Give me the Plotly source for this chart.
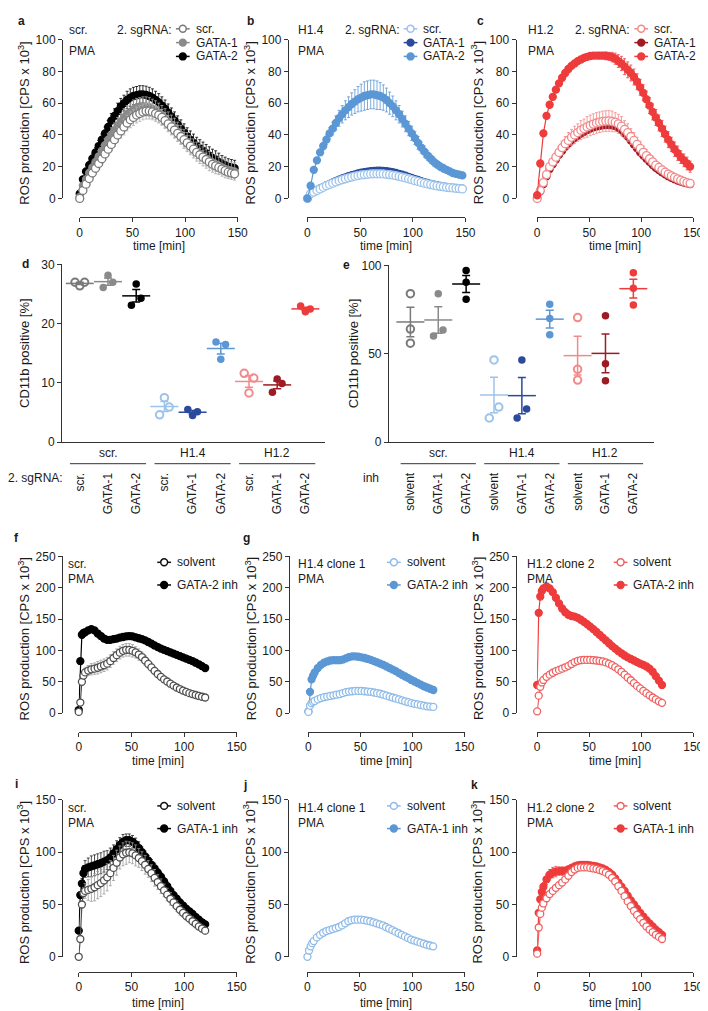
import numpy as np
import plotly.graph_objects as go

W, H = 708, 1011
FONT = "Liberation Sans, Arial, Helvetica, sans-serif"
TXT = "#1a1a1a"
AX = "#333333"

# ---------------- data: panels a-c (time in min) ----------------
T_ABC = [0, 3, 6, 9, 12, 15, 18, 21, 24, 27, 30, 33, 36, 39, 42, 45, 48, 51, 54, 57,
         60, 63, 66, 69, 72, 75, 78, 81, 84, 87, 90, 93, 96, 99, 102, 105, 108, 111, 114, 117,
         120, 123, 126, 129, 132, 135, 138, 141, 144, 147]

A_SCR = [0, 5, 9, 12.5, 16, 19, 22, 25, 28, 31, 34, 37, 40, 42.5, 45, 47.5, 49.5, 51, 52.5, 53.5,
         54.5, 55, 55, 54.5, 53.5, 52.5, 51, 49, 47, 45, 43, 41, 39, 37, 35, 33, 31, 29, 27.5, 26,
         24.5, 23, 21.5, 20.5, 19.5, 18.5, 17.5, 16.5, 16, 15.5]
A_SCR_ERR = [0.5, 1, 1.5, 2, 2.5, 2.5, 3, 3, 3.5, 3.5, 4, 4, 4.5, 4.5, 5, 5, 5, 5, 5, 5,
             5, 5, 5, 5, 5, 5, 5, 5, 5, 5, 5, 5, 4.5, 4.5, 4.5, 4.5, 4, 4, 4, 4,
             4, 3.5, 3.5, 3.5, 3.5, 3, 3, 3, 3, 3]
A_G1 = [1, 8, 12, 16, 19.5, 23, 26.5, 30, 33.5, 37, 40, 43, 46, 48.5, 51, 53, 54.5, 56, 57, 57.5,
        58, 58, 57.5, 56.5, 55.5, 54, 52.5, 50.5, 48.5, 46.5, 44.5, 42, 40, 37.5, 35.5, 33.5, 31.5, 29.5, 28, 26.5,
        25, 23.5, 22.5, 21.5, 20.5, 19.5, 18.5, 18, 17.5, 17]
A_G1_ERR = [0.5, 1.5, 2, 2.5, 3, 3, 3.5, 3.5, 4, 4, 4.5, 4.5, 5, 5, 5.5, 5.5, 5.5, 6, 6, 6,
            6, 6, 6, 6, 6, 6, 6, 6, 6, 6, 6, 6, 6, 6, 6, 6, 6, 6, 6, 6,
            6, 6, 6, 6, 5.5, 5.5, 5.5, 5.5, 5.5, 5.5]
A_G2 = [3, 12, 17, 21, 25, 29, 33, 37, 41, 45, 49, 52, 55, 58, 60, 62, 63.5, 64.5, 65, 65.5,
        65.5, 65.2, 64.5, 63.5, 62, 60.5, 58.5, 56.5, 54, 51.5, 49, 46.5, 44, 41.5, 39, 37, 35, 33, 31.5, 30,
        28.5, 27, 25.5, 24.5, 23, 22, 21, 20, 19.5, 19]
A_G2_ERR = [0.5, 1.5, 2, 2.5, 3, 3, 3.5, 3.5, 4, 4, 4.5, 4.5, 5, 5, 5, 5.5, 5.5, 5.5, 5.5, 5.5,
            5.5, 5.5, 5.5, 5.5, 5.5, 5.5, 5.5, 5.5, 5.5, 5.5, 5.5, 5.5, 5.5, 5.5, 5.5, 5.5, 5.5, 5.5, 5.5, 5.5,
            5.5, 5.5, 5.5, 5.5, 5.5, 5, 5, 5, 5, 5]

B_SCR = [0, 3, 4, 5, 6, 7, 8, 8.8, 9.6, 10.4, 11.1, 11.8, 12.4, 13, 13.5, 14, 14.4, 14.8, 15, 15.2,
         15.4, 15.5, 15.5, 15.5, 15.4, 15.2, 15, 14.7, 14.3, 13.9, 13.4, 12.9, 12.4, 11.8, 11.2, 10.7, 10.1, 9.6, 9.1, 8.7,
         8.3, 7.9, 7.6, 7.3, 7, 6.8, 6.6, 6.4, 6.2, 6]
B_SCR_ERR = [0, 0.5, 1, 1, 1, 1.5, 1.5, 1.5, 1.5, 1.5, 1.5, 1.5, 1.5, 1.5, 1.5, 1.5, 1.5, 1.5, 1.5, 1.5,
             1.5, 1.5, 1.5, 1.5, 1.5, 1.5, 1.5, 1.5, 1.5, 1.5, 1.5, 1.5, 1.5, 1.5, 1.5, 1.5, 1.5, 1.5, 1.5, 1.5,
             1.5, 1.5, 1.5, 1.5, 1.5, 1, 1, 1, 1, 1]
B_G1 = [0, 3, 4.3, 5.3, 6.3, 7.3, 8.3, 9.2, 10.1, 11, 11.8, 12.6, 13.3, 14, 14.6, 15.2, 15.7, 16.2, 16.6, 16.9,
        17.2, 17.4, 17.5, 17.5, 17.4, 17.2, 16.9, 16.5, 16, 15.5, 14.9, 14.3, 13.6, 12.9, 12.2, 11.6, 10.9, 10.3, 9.7, 9.2,
        8.7, 8.3, 7.9, 7.5, 7.2, 6.9, 6.7, 6.5, 6.3, 6.1]
B_G2 = [0, 8, 18, 24, 29, 33, 37, 41, 44, 47.5, 50.5, 53, 55.5, 57.5, 59.5, 61, 62.5, 63.5, 64.5, 65,
        65.5, 65.5, 65, 64.5, 63.5, 62, 60, 58, 55.5, 53, 50, 47, 44, 41, 38, 35, 32, 29.5, 27, 25,
        23, 21.5, 20, 19, 18, 17, 16, 15.5, 15, 14.5]
B_G2_ERR = [0, 0.5, 1, 1.5, 2, 2.5, 3, 3.5, 4, 4.5, 5, 5.5, 6, 6.5, 7, 7.5, 8, 8.5, 9, 9,
            9, 9, 9, 8.5, 8, 7.5, 7, 6.5, 6, 5.5, 5, 5, 4.5, 4.5, 4, 4, 3.5, 3.5, 3, 3,
            3, 2.5, 2.5, 2.5, 2, 2, 2, 2, 2, 2]

C_SCR = [0, 5, 10, 15, 20, 23, 26, 29, 32, 34.5, 36.5, 38.5, 40, 41.5, 43, 44, 45, 46, 46.8, 47.5,
         48, 48.5, 48.7, 48.8, 48.5, 48, 47, 45.5, 43.5, 41.5, 39, 36.5, 34, 31.5, 29, 27, 25, 23, 21, 19.5,
         18, 16.5, 15.3, 14.2, 13.2, 12.3, 11.5, 10.7, 10, 9.5]
C_SCR_ERR = [0, 0.5, 1, 1.5, 2, 2.5, 3, 3.5, 4, 4.5, 5, 5, 5.5, 5.5, 6, 6, 6.5, 6.5, 6.5, 6.5,
             6.5, 6.5, 6.5, 6.5, 6.5, 6, 6, 6, 5.5, 5.5, 5, 5, 4.5, 4.5, 4, 4, 3.5, 3.5, 3, 3,
             2.5, 2.5, 2.5, 2, 2, 2, 2, 1.5, 1.5, 1.5]
C_G1 = [0, 4.5, 9, 14, 18.5, 21.5, 24.5, 27.5, 30, 32.5, 34.5, 36.5, 38, 39.5, 40.8, 42, 43, 44, 44.8, 45.3,
        45.7, 46, 46.2, 46.2, 46, 45.5, 44.5, 43, 41, 39, 36.5, 34, 31.5, 29, 27, 25, 23, 21, 19.3, 17.8,
        16.4, 15.2, 14, 13, 12.1, 11.3, 10.6, 10, 9.5, 9]
C_G2 = [2, 22, 41, 52, 59, 64, 68.5, 72.5, 76, 79, 81.5, 83.5, 85, 86.5, 87.5, 88.5, 89.2, 89.7, 90, 90,
        90, 90, 89.8, 89.5, 89, 88, 86.5, 85, 83, 81, 79, 76.5, 73.5, 70, 66.5, 62.5, 58.5, 54.5, 51, 47.5,
        44, 40.5, 37, 34, 31, 28.5, 26, 24, 22, 20]
C_G2_ERR = [0.5, 1, 1, 1, 1, 1, 1, 1, 1, 1, 1, 1, 1, 1, 1, 1, 1, 1.5, 1.5, 1.5,
            2, 2, 2.5, 2.5, 3, 3.5, 4, 4.5, 5, 5, 5, 5, 5, 5, 5, 5, 5, 5, 5, 5,
            5, 5, 5, 4.5, 4.5, 4.5, 4, 4, 4, 3.5]

# ---------------- data: panel d / e (CD11b positive %) ----------------
D_TICKS = ["scr.", "GATA-1", "GATA-2", "scr.", "GATA-1", "GATA-2", "scr.", "GATA-1", "GATA-2"]
D_VALUES = [[27.0, 26.4, 27.0], [26.1, 28.2, 27.0], [23.1, 26.7, 24.3],
            [4.6, 7.5, 5.9], [5.5, 4.5, 5.1], [16.9, 14.0, 16.5],
            [11.6, 8.3, 10.8], [8.4, 10.65, 9.9], [23.0, 22.0, 22.5]]
E_TICKS = ["solvent", "GATA-1", "GATA-2", "solvent", "GATA-1", "GATA-2", "solvent", "GATA-1", "GATA-2"]
E_VALUES = [[84, 64, 56], [60, 84, 63.4], [97.2, 90.5, 80.8],
            [13.6, 46.5, 19.8], [13.6, 46.5, 18.7], [78, 70, 60.8],
            [70.5, 41.2, 35.1], [71.5, 44.4, 34.7], [95.9, 87.1, 77.6]]
GROUPS = ["scr.", "H1.4", "H1.2"]

# ---------------- data: panels f-k ----------------
T_FK = [0, 1.5, 3, 4.5, 6, 9, 12, 15, 18, 21, 24, 27, 30, 33, 36, 39, 42, 45, 48, 51,
        54, 57, 60, 63, 66, 69, 72, 75, 78, 81, 84, 87, 90, 93, 96, 99, 102, 105, 108, 111,
        114, 117, 120]

F_SOL = [2, 17, 50, 60, 65, 68, 70, 71, 72.5, 74.5, 76.5, 79, 83, 88, 92.5, 96.5, 99.5, 101, 101, 99.5,
         97, 93.5, 89.5, 84, 78.5, 73, 67.5, 62.5, 58, 54, 50.5, 47, 44, 41, 38.5, 36, 34, 32, 30.5, 29,
         27.5, 26.2, 25]
F_SOL_ERR = [0, 1, 3, 5, 7, 8, 9, 9, 10, 10, 10, 10, 10, 10, 10, 10, 10, 10, 10, 10,
             9, 9, 8, 8, 7, 7, 6, 6, 5, 5, 5, 4, 4, 4, 4, 3, 3, 3, 3, 3,
             3, 3, 3]
F_G2 = [5, 83, 125, 128, 129, 132, 134, 132, 127, 123, 119, 117, 117, 118, 119, 120.5, 121.5, 122.5, 123, 122.5,
        121, 119.5, 118, 116, 113.5, 111, 108, 105.5, 103, 101, 99, 97, 95, 93, 91, 89, 87, 85, 83, 80.5,
        78, 75, 72]
F_G2_ERR = [0, 2, 3, 3, 3, 3, 3, 3, 3, 3, 3, 3, 3, 3, 3, 3, 3, 3, 3, 3,
            3, 3, 3, 3, 3, 3, 3, 2.5, 2.5, 2.5, 2.5, 2.5, 2.5, 2.5, 2.5, 2, 2, 2, 2, 2,
            2, 2, 2]

G_SOL = [2, 12, 16, 18, 19.5, 22, 24, 25.5, 26.5, 27.5, 28.5, 29.5, 30.5, 32, 33.5, 34.5, 35, 35.5, 35.5, 35.5,
         35, 34.5, 34, 33, 32, 31, 29.5, 28, 26.5, 25, 23.5, 22, 20.5, 19, 17.5, 16, 15, 14, 13, 12,
         11, 10.5, 10]
G_G2 = [3, 34, 54, 60, 65, 72, 77, 80.5, 82.5, 84, 84.5, 84.5, 84.5, 85.5, 87.5, 89.5, 90.5, 90.5, 90, 89,
        88, 86.5, 85, 83, 81, 79, 77, 74.5, 72, 69.5, 67, 64, 61, 58.5, 56, 53, 50.5, 48, 45.5, 43,
        41, 39, 37]

H_SOL = [3, 28, 42, 49, 53, 58, 61.5, 64.5, 67, 69, 71, 73, 75.5, 78.5, 81.5, 83.5, 84.5, 85, 85, 85,
         84.5, 84, 83.5, 82.5, 81, 79, 76.5, 73.5, 70, 66, 61.5, 57, 52.5, 48, 43.5, 39.5, 35.5, 32, 28.5, 25,
         22, 19, 16.5]
H_G2 = [45, 160, 186, 195, 199, 202, 199, 193, 184, 175, 167, 161, 157, 155, 154, 152, 149, 145.5, 142, 138,
        134, 129.5, 125, 120.5, 116, 111.5, 107, 103, 99, 95.5, 92, 89, 86.5, 84, 81.5, 79, 77, 74.5, 71, 66,
        59, 52, 45]

I_SOL = [0, 17, 50, 61, 63, 64, 65, 66.5, 68.5, 70.5, 73, 76, 80, 85, 90, 95, 98, 99.5, 100, 99,
         97, 94.5, 91.5, 88, 84, 80, 75.5, 71.5, 67.5, 63.5, 59.5, 55.5, 52, 48.5, 45, 42, 39, 36.5, 34, 31.5,
         29, 27, 25]
I_SOL_ERR = [0, 1, 3, 5, 7, 10, 12, 13, 13, 13, 13, 13, 12, 12, 12, 11, 11, 11, 10, 10,
             10, 9, 9, 9, 8, 8, 8, 7, 7, 6, 6, 6, 5, 5, 5, 4, 4, 4, 4, 4,
             3, 3, 3]
I_G1 = [25, 59, 70, 80, 84, 85.5, 86.5, 87.5, 88.5, 89.5, 91, 92.5, 95, 99, 103, 107, 110, 111.5, 111.5, 110,
        107.5, 104, 100, 96, 92, 88, 84.5, 80.5, 76.5, 72, 67.5, 63, 59, 55.5, 52, 49, 46, 43.5, 41, 38,
        35.5, 33, 31]
I_G1_ERR = [1, 3, 5, 7, 8, 9, 10, 10, 10, 10, 10, 9, 9, 8, 8, 7, 7, 6, 6, 6,
            6, 6, 5, 5, 5, 5, 5, 4, 4, 4, 4, 4, 3, 3, 3, 3, 3, 3, 3, 3,
            2.5, 2.5, 2.5]

J_SOL = [0, 6, 10, 13, 15, 18.5, 21, 23, 24.5, 25.5, 26.5, 27.5, 28.5, 30, 32, 34, 35, 35.5, 35.5, 35.5,
         35, 34.5, 34, 33, 32, 31, 30, 28.5, 27, 25.5, 24, 22.5, 21, 19.5, 18, 16.5, 15.5, 14.5, 13.5, 12.5,
         11.5, 10.8, 10]

K_SOL = [3, 28, 41, 47, 51, 56, 60, 63, 66, 68.5, 71, 74, 77.5, 81, 83.5, 85, 85.5, 85.5, 85.5, 85,
         84.5, 84, 83, 82, 80.5, 78.5, 75.5, 72, 67.5, 63, 58, 53, 48.5, 44, 40, 36, 32.5, 29, 26, 23.5,
         21, 19, 17]
K_SOL_ERR = [0, 1, 2, 2, 2, 2, 2, 2, 2, 2, 2, 2, 2, 2, 2, 2, 2, 2, 2, 2,
             2, 2, 2, 2, 2, 2, 2, 2, 2, 2, 2, 2, 2, 2, 2, 1.5, 1.5, 1.5, 1.5, 1.5,
             1.5, 1.5, 1.5]
K_G1 = [6, 42, 55, 62, 67, 74, 78.5, 80.5, 81.5, 82, 82, 82.5, 83.5, 85, 86.5, 87.5, 88, 88, 88, 87.5,
        87, 86.5, 85.5, 84.5, 83, 81, 78.5, 75, 71, 67, 63, 58.5, 54, 50, 46, 42, 38.5, 35, 32, 29,
        26, 23.5, 21]
K_G1_ERR = [1, 2, 3, 4, 4, 5, 5, 5, 5, 4, 4, 3, 3, 2, 2, 2, 2, 2, 2, 2,
            2, 2, 2, 2, 2, 2, 2, 2, 2, 2, 2, 2, 2, 2, 2, 1.5, 1.5, 1.5, 1.5, 1.5,
            1.5, 1.5, 1.5]

for arr in [A_SCR, A_SCR_ERR, A_G1, A_G1_ERR, A_G2, A_G2_ERR, B_SCR, B_SCR_ERR, B_G1, B_G2, B_G2_ERR,
            C_SCR, C_SCR_ERR, C_G1, C_G2, C_G2_ERR]:
    assert len(arr) == len(T_ABC), len(arr)
for arr in [F_SOL, F_SOL_ERR, F_G2, F_G2_ERR, G_SOL, G_G2, H_SOL, H_G2, I_SOL, I_SOL_ERR, I_G1, I_G1_ERR,
            J_SOL, K_SOL, K_SOL_ERR, K_G1, K_G1_ERR]:
    assert len(arr) == len(T_FK), len(arr)

# ---------------- colours ----------------
GREY_O = "#7a7a7a"
GREY_F = "#8a8a8a"
BLACK = "#000000"
LB = "#9cc3ea"
DB = "#2b4a9c"
MB = "#5b97d5"
PINK = "#f28a8a"
DR = "#9e1b24"
RED = "#ee3b3b"
SOLV_K = "#505050"
SOLV_B = "#8fbbe8"
SOLV_R = "#f06060"


def fx(p):
    return p / W


def fy(p):
    return 1 - p / H


fig = go.Figure()
layout = dict(width=W, height=H, autosize=False, margin=dict(l=0, r=0, t=0, b=0),
              paper_bgcolor="white", plot_bgcolor="white", showlegend=False,
              font=dict(family=FONT, size=12, color=TXT))
annotations = []
shapes = []

COMMON = dict(showline=True, linecolor=AX, linewidth=1, ticklen=4, tickwidth=1,
              tickcolor=AX, showgrid=False, zeroline=False, fixedrange=True,
              tickfont=dict(size=12, color=TXT, family=FONT))


def axname(n, k):
    return k if n == 1 else f"{k}{n}"


def ann(x, y, text, xanchor="left", yanchor="middle", size=12, angle=0, xref="paper", yref="paper"):
    annotations.append(dict(x=fx(x) if xref == "paper" else x, y=fy(y) if yref == "paper" else y,
                            xref=xref, yref=yref, text=text, showarrow=False, xanchor=xanchor,
                            yanchor=yanchor, textangle=angle,
                            font=dict(size=size, color=TXT, family=FONT)))


def time_panel(n, yx, ytop, ybot, ymax, ydtick, x0, x1, xline, title_dy=29):
    layout[axname(n, "xaxis")] = dict(domain=[fx(x0), fx(x1)], range=[0, 150], anchor="free",
                                      position=fy(xline), tickvals=[0, 50, 100, 150], ticks="outside",
                                      **COMMON)
    layout[axname(n, "yaxis")] = dict(domain=[fy(ybot), fy(ytop)], range=[0, ymax], anchor="free",
                                      position=fx(yx), tickvals=list(range(0, ymax + 1, ydtick)),
                                      ticks="outside", **COMMON)
    ann((x0 + x1) / 2, xline + title_dy, "time [min]", xanchor="center")
    ann(yx - 39, (ytop + ybot) / 2 + 4, "ROS production [CPS x 10<sup>3</sup>]", xanchor="center",
        angle=-90, size=13)


def series(n, t, y, color, filled, err=None, errcolor=None, size=7):
    tr = go.Scatter(x=t, y=y, xaxis=axname(n, "x"), yaxis=axname(n, "y"), mode="lines+markers",
                    line=dict(color=color, width=1.2),
                    marker=dict(symbol="circle", size=size, color=color if filled else "white",
                                line=dict(color=color, width=1.3)),
                    cliponaxis=False, hoverinfo="skip", showlegend=False)
    if err is not None:
        tr.error_y = dict(type="data", array=err, visible=True, color=errcolor or color,
                          thickness=0.8, width=1.5)
    fig.add_trace(tr)


def key(mx, my, color, filled, label):
    shapes.append(dict(type="line", xref="paper", yref="paper", x0=fx(mx - 7), x1=fx(mx + 7),
                       y0=fy(my), y1=fy(my), line=dict(color=color, width=1.5)))
    r = 3.5
    shapes.append(dict(type="circle", xref="paper", yref="paper", x0=fx(mx - r), x1=fx(mx + r),
                       y0=fy(my + r), y1=fy(my - r), fillcolor=color if filled else "white",
                       line=dict(color=color, width=1.5)))
    ann(mx + 11, my, label)


# ---------------- panels a-c ----------------
time_panel(1, 52, 25, 186, 100, 20, 70, 231, 205)
time_panel(2, 282, 25, 186, 100, 20, 302, 463, 205)
time_panel(3, 514, 25, 186, 100, 20, 536, 695, 205)

series(1, T_ABC, A_G2, BLACK, True, A_G2_ERR, BLACK)
series(1, T_ABC, A_G1, GREY_F, True, A_G1_ERR, "#a8a8a8")
series(1, T_ABC, A_SCR, GREY_O, False, A_SCR_ERR, "#b0b0b0", size=8)

series(2, T_ABC, B_G1, DB, True)
series(2, T_ABC, B_SCR, LB, False, B_SCR_ERR, LB, size=8)
series(2, T_ABC, B_G2, MB, True, B_G2_ERR, MB)

series(3, T_ABC, C_G1, DR, True)
series(3, T_ABC, C_SCR, PINK, False, C_SCR_ERR, PINK, size=8)
series(3, T_ABC, C_G2, RED, True, C_G2_ERR, RED)

for (lx, cond, kx, cols) in [(57, "scr.", 175, (GREY_O, GREY_F, BLACK)),
                             (290, "H1.4", 407, (LB, DB, MB)),
                             (525, "H1.2", 642, (PINK, DR, RED))]:
    ann(lx, 15, cond)
    ann(lx, 37, "PMA")
    ann(kx - 9, 15, "2. sgRNA:", xanchor="right")
    key(kx, 14, cols[0], False, "scr.")
    key(kx, 28, cols[1], True, "GATA-1")
    key(kx, 42, cols[2], True, "GATA-2")

# ---------------- panels d, e ----------------
D_COLORS = [GREY_O, GREY_F, BLACK, LB, DB, MB, PINK, DR, RED]
D_FILLED = [False, True, True, False, True, True, False, True, True]
E_JITTER = [0, 1, 0, 1, 1, 0, 0, 0, 0]


def strip_panel(n, values, ticks, yx, x1, ytop, ymax, ytv, rng, jitter_on, title_x, group_label, label_rx):
    ybot = 433
    layout[axname(n, "xaxis")] = dict(domain=[fx(yx), fx(x1)], range=rng, anchor=axname(n, "y"),
                                      tickvals=list(range(1, len(ticks) + 1)), ticktext=ticks,
                                      tickangle=-90, ticks="", ticklabelstandoff=25, **COMMON)
    layout[axname(n, "yaxis")] = dict(domain=[fy(ybot), fy(ytop)], range=[0, ymax], anchor=axname(n, "x"),
                                      tickvals=ytv, ticks="outside", **COMMON)
    for i, vals in enumerate(values):
        c = D_COLORS[i]
        filled = D_FILLED[i]
        off = 0.17 if jitter_on[i] else 0.0
        xs = [i + 1 - off, i + 1, i + 1 + off]
        fig.add_trace(go.Scatter(x=xs, y=vals, xaxis=axname(n, "x"), yaxis=axname(n, "y"), mode="markers",
                                 marker=dict(size=7.5, color=c if filled else "white",
                                             line=dict(color=c, width=0 if filled else 2)),
                                 cliponaxis=False, hoverinfo="skip", showlegend=False))
        m = float(np.mean(vals))
        s = float(np.std(vals, ddof=1) / np.sqrt(len(vals)))
        fig.add_trace(go.Scatter(x=[i + 1], y=[m], xaxis=axname(n, "x"), yaxis=axname(n, "y"), mode="markers",
                                 marker=dict(symbol="line-ew", size=20, color=c, line=dict(color=c, width=1.5)),
                                 error_y=dict(type="data", array=[s], visible=True, color=c, thickness=1.5, width=4),
                                 cliponaxis=False, hoverinfo="skip", showlegend=False))
    for g, gname in enumerate(GROUPS):
        cx = 2 + 3 * g
        shapes.append(dict(type="line", xref=axname(n, "x"), yref="paper", x0=cx - 1.35, x1=cx + 1.35,
                           y0=fy(455), y1=fy(455), line=dict(color=AX, width=1)))
        ann(cx, 453, gname, xanchor="center", yanchor="bottom", xref=axname(n, "x"))
    ann(title_x, (ytop + ybot) / 2, "CD11b positive [%]", xanchor="center", angle=-90, size=13)
    ann(label_rx, 469, group_label, xanchor="right")


strip_panel(4, D_VALUES, D_TICKS, 52, 320, 253, 30, [0, 10, 20, 30], [0.37, 9.7],
            [1] * 9, 13, "2. sgRNA:", 55)
strip_panel(5, E_VALUES, E_TICKS, 385, 655, 254, 100, [0, 50, 100], [0.23, 9.74],
            E_JITTER, 349, "inh", 377)

# ---------------- panels f-k ----------------
time_panel(6, 52, 549, 708, 250, 50, 69, 230, 727)
time_panel(7, 283, 549, 708, 250, 50, 303, 462, 727)
time_panel(8, 514, 549, 708, 250, 50, 536, 695, 727)
time_panel(9, 52, 796, 955, 150, 50, 69, 230, 970, title_dy=32)
time_panel(10, 282, 796, 955, 150, 50, 302, 462, 970, title_dy=32)
time_panel(11, 514, 796, 955, 150, 50, 536, 695, 970, title_dy=32)

series(6, T_FK, F_G2, BLACK, True, F_G2_ERR, BLACK)
series(6, T_FK, F_SOL, SOLV_K, False, F_SOL_ERR, "#9a9a9a")
series(7, T_FK, G_G2, MB, True)
series(7, T_FK, G_SOL, SOLV_B, False)
series(8, T_FK, H_G2, RED, True)
series(8, T_FK, H_SOL, SOLV_R, False)
series(9, T_FK, I_G1, BLACK, True, I_G1_ERR, "#222222")
series(9, T_FK, I_SOL, SOLV_K, False, I_SOL_ERR, "#9a9a9a")
series(10, T_FK, J_SOL, SOLV_B, False)
series(11, T_FK, K_G1, RED, True, K_G1_ERR, RED)
series(11, T_FK, K_SOL, SOLV_R, False, K_SOL_ERR, SOLV_R)

for (lx, cond, kx, ky, inh, cols) in [
        (56, "scr.", 156, 556, "GATA-2 inh", ("#111111", BLACK)),
        (290, "H1.4 clone 1", 390, 556, "GATA-2 inh", (SOLV_B, MB)),
        (524, "H1.2 clone 2", 621, 556, "GATA-2 inh", (SOLV_R, RED)),
        (56, "scr.", 156, 803, "GATA-1 inh", ("#111111", BLACK)),
        (290, "H1.4 clone 1", 390, 803, "GATA-1 inh", (SOLV_B, MB)),
        (524, "H1.2 clone 2", 621, 803, "GATA-1 inh", (SOLV_R, RED))]:
    ann(lx, ky + 1, cond)
    ann(lx, ky + 16, "PMA")
    key(kx, ky - 1, cols[0], False, "solvent")
    key(kx, ky + 22, cols[1], True, inh)

# panel letters
for letter, x, y in [("a", 11, 6), ("b", 244, 6), ("c", 478, 6), ("d", 15, 253), ("e", 342, 254),
                     ("f", 6, 530), ("g", 240, 530), ("h", 473, 529), ("i", 6, 780), ("j", 238, 781),
                     ("k", 472, 781)]:
    ann(x, y, f"<b>{letter}</b>", xanchor="center", size=12)

layout["annotations"] = annotations
layout["shapes"] = shapes
fig.update_layout(**layout)
fig.write_html("out.html")
